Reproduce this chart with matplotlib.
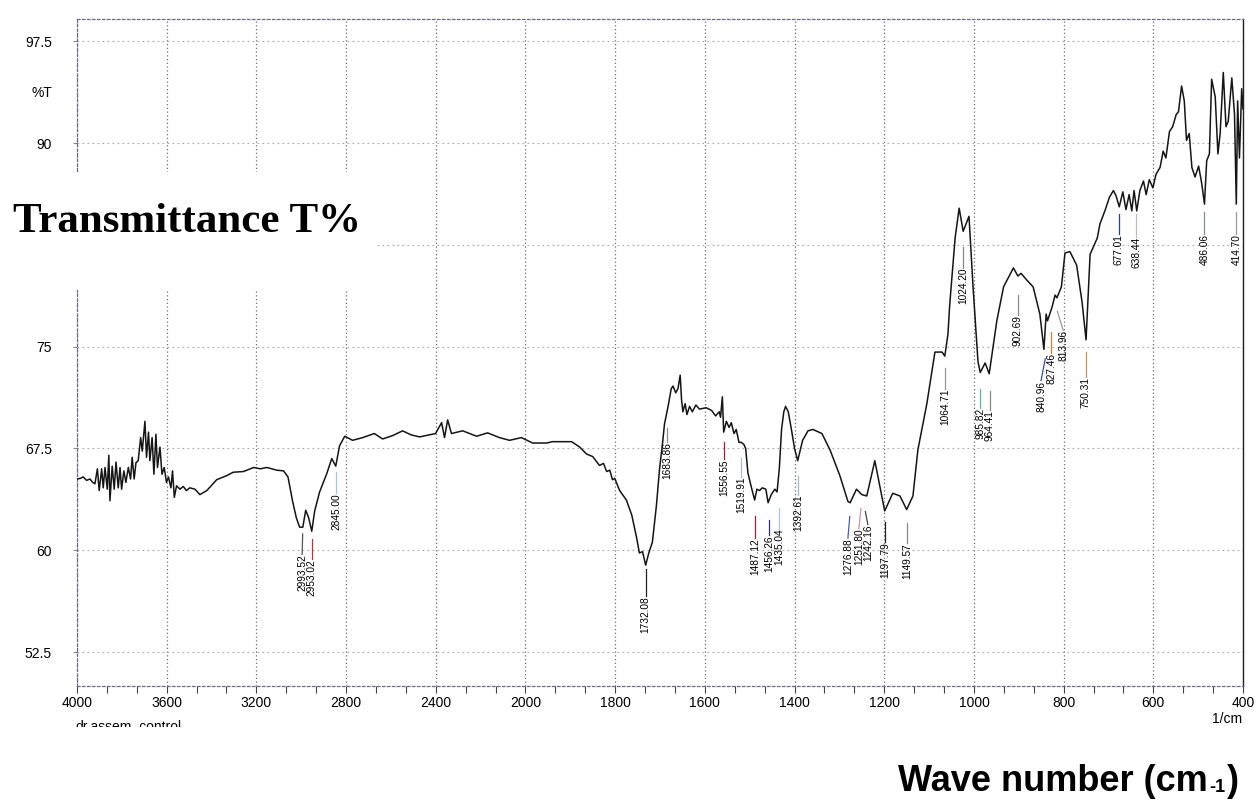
import numpy as np
import matplotlib
matplotlib.use("Agg")
import matplotlib.pyplot as plt
from matplotlib.patches import Rectangle
from matplotlib.ticker import FixedLocator

plt.rcParams["font.family"] = ["Liberation Sans", "DejaVu Sans"]

# spectrum (wavenumber in 1/cm, transmittance in %)
wavenumber = [
    4000, 3985, 3972, 3957, 3942, 3930, 3920, 3909, 3901, 3890, 3883, 3875, 3865, 3858, 3853,
    3843, 3834, 3826, 3816, 3808, 3801, 3791, 3782, 3771, 3761, 3754, 3745, 3737, 3727, 3716,
    3709, 3697, 3690, 3681, 3675, 3665, 3657, 3648, 3641, 3630, 3621, 3611, 3601, 3592, 3581,
    3574, 3566, 3556, 3541, 3526, 3512, 3497, 3474, 3452, 3421, 3377, 3332, 3303, 3258, 3212,
    3183, 3153, 3109, 3079, 3059, 3039, 3022, 3007, 2993, 2980, 2967, 2953, 2940, 2918, 2886,
    2864, 2846, 2829, 2806, 2771, 2726, 2674, 2637, 2592, 2548, 2510, 2472, 2401, 2374, 2361,
    2347, 2330, 2280, 2218, 2169, 2116, 2071, 2018, 1984, 1953, 1940, 1917, 1897, 1879, 1864,
    1850, 1835, 1826, 1819, 1812, 1806, 1801, 1790, 1775, 1763, 1752, 1746, 1739, 1732, 1725,
    1717, 1708, 1701, 1694, 1690, 1682, 1675, 1671, 1665, 1660, 1655, 1652, 1649, 1644, 1640,
    1634, 1628, 1620, 1612, 1597, 1585, 1576, 1568, 1565, 1561, 1558, 1552, 1546, 1541, 1535,
    1530, 1524, 1519, 1513, 1509, 1504, 1496, 1489, 1484, 1478, 1472, 1464, 1459, 1452, 1444,
    1439, 1434, 1429, 1424, 1420, 1414, 1407, 1400, 1393, 1382, 1370, 1359, 1339, 1321, 1299,
    1281, 1276, 1262, 1250, 1239, 1221, 1199, 1181, 1165, 1150, 1136, 1125, 1105, 1087, 1071,
    1065, 1058, 1054, 1042, 1033, 1024, 1011, 1002, 991, 986, 975, 966, 949, 934, 912,
    902, 895, 882, 868, 853, 844, 839, 836, 826, 819, 815, 805, 797, 786, 771,
    759, 750, 741, 725, 719, 708, 698, 689, 683, 676, 668, 661, 654, 648, 643,
    637, 630, 622, 616, 609, 601, 594, 585, 578, 572, 564, 557, 549, 544, 537,
    531, 526, 520, 514, 507, 499, 492, 486, 481, 475, 470, 462, 456, 451, 444,
    438, 433, 425, 419, 415, 412, 408, 403, 400,
]
transmittance = [
    65.25, 65.3, 65.4, 65.15, 65.25, 65.0, 64.9, 66.0, 64.4, 66.0, 64.6, 66.1, 64.5, 67.0, 63.65,
    66.2, 64.5, 66.5, 64.6, 66.1, 64.5, 65.85, 65.0, 66.1, 65.25, 66.85, 65.25, 66.45, 66.6, 68.3,
    67.3, 69.5, 66.85, 68.7, 66.6, 68.3, 65.6, 68.55, 66.1, 67.6, 65.6, 66.1, 65.0, 65.4, 64.6,
    65.85, 63.9, 64.75, 64.5, 64.7, 64.4, 64.6, 64.5, 64.1, 64.4, 65.2, 65.5, 65.75, 65.8, 66.1,
    66.0, 66.1, 65.9, 65.85, 65.4, 63.65, 62.4, 61.7, 61.7, 62.95, 62.4, 61.4, 62.9, 64.3, 65.65,
    66.75, 66.2, 67.7, 68.4, 68.1, 68.3, 68.6, 68.2, 68.45, 68.8, 68.5, 68.35, 68.6, 69.4, 68.3,
    69.6, 68.6, 68.8, 68.4, 68.65, 68.3, 68.1, 68.3, 67.9, 67.9, 68.0, 68.0, 68.0, 67.6, 67.1,
    66.9, 66.25, 66.4, 65.8, 65.9, 65.2, 65.3, 64.4, 63.7, 62.6, 60.9, 59.8, 59.9, 58.9, 59.8,
    60.6, 63.3, 66.0, 68.0, 69.3, 70.6, 71.9, 72.1, 71.6, 71.9, 72.9, 71.1, 70.2, 70.8, 70.0,
    70.6, 70.2, 70.7, 70.4, 70.5, 70.3, 69.9, 70.2, 69.8, 71.3, 68.7, 69.5, 69.05, 69.4, 68.6,
    68.9, 67.95, 67.95, 67.8, 67.5, 65.7, 64.6, 63.7, 64.5, 64.4, 64.6, 64.5, 63.5, 64.1, 64.5,
    64.3, 66.0, 68.9, 70.2, 70.6, 70.2, 68.9, 67.5, 66.6, 68.1, 68.8, 68.9, 68.6, 67.4, 65.5,
    63.6, 63.5, 64.5, 64.1, 64.0, 66.6, 62.9, 64.2, 64.0, 63.0, 64.0, 67.4, 70.8, 74.6, 74.6,
    74.3, 75.9, 78.1, 83.0, 85.2, 83.5, 84.6, 79.4, 73.9, 73.1, 73.8, 73.0, 76.9, 79.4, 80.8,
    80.2, 80.4, 79.9, 79.4, 77.4, 74.8, 77.4, 76.9, 77.9, 78.8, 78.6, 79.4, 81.9, 82.0, 81.0,
    78.3, 75.5, 81.8, 83.0, 84.05, 85.0, 86.0, 86.5, 86.1, 85.3, 86.4, 85.1, 86.2, 85.0, 86.5,
    85.0, 86.5, 87.2, 86.2, 87.3, 86.7, 87.7, 88.2, 89.4, 88.9, 90.85, 91.2, 92.1, 92.3, 94.2,
    93.1, 90.2, 90.7, 88.2, 87.5, 88.3, 87.0, 85.5, 88.7, 89.2, 94.7, 93.4, 89.2, 90.7, 95.2,
    91.2, 91.6, 94.8, 92.1, 85.5, 93.1, 88.9, 94.0, 92.5,
]

# peak picks printed on the chart
peak_wn = [2993.52, 2953.02, 2845.00, 1732.08, 1683.86, 1556.55, 1519.91, 1487.12, 1456.26,
           1435.04, 1392.61, 1276.88, 1251.80, 1242.16, 1197.79, 1149.57, 1064.71, 1024.20,
           985.82, 964.41, 902.69, 840.96, 827.46, 813.96, 750.31, 677.01, 638.44, 486.06, 414.70]
peak_text = ["2993.52", "2953.02", "2845.00", "1732.08", "1683.86", "1556.55", "1519.91",
             "1487.12", "1456.26", "1435.04", "1392.61", "1276.88", "1251.80", "1242.16",
             "1197.79", "1149.57", "1064.71", "1024.20", "985.82", "964.41", "902.69", "840.96",
             "827.46", "813.96", "750.31", "677.01", "638.44", "486.06", "414.70"]
line_top = [61.2, 60.85, 65.8, 58.65, 69.0, 67.95, 66.8, 62.5, 62.2, 63.1, 65.5, 62.5, 63.1,
            62.85, 62.1, 62.0, 73.4, 82.35, 71.9, 71.7, 78.8, 74.1, 76.1, 77.6, 74.6, 84.75,
            84.75, 84.9, 84.9]
text_top = [59.7, 59.35, 64.2, 56.6, 67.95, 66.7, 65.4, 60.9, 61.1, 61.6, 64.1, 60.9, 61.6,
            61.9, 60.6, 60.5, 71.9, 80.8, 70.5, 70.3, 77.3, 72.5, 74.5, 76.2, 72.8, 83.3,
            83.05, 83.3, 83.3]
# where the printer put each label (slightly off the pick when crowded)
text_wn = [2996.0, 2953.02, 2845.00, 1732.08, 1683.86, 1556.55, 1519.91, 1487.12, 1456.26,
           1435.04, 1392.61, 1281.0, 1256.7, 1236.6, 1197.79, 1149.57, 1064.71, 1024.20,
           985.82, 964.41, 902.69, 850.4, 827.46, 801.0, 750.31, 677.01, 638.44, 486.06, 414.70]
line_colors = ["#555555", "#c03030", "#9cc8e0", "#222222", "#888888", "#a02030", "#a8b8d0",
               "#a02030", "#303080", "#a8c8e0", "#a0b8c8", "#4060b0", "#d090b0", "#444444",
               "#222222", "#888888", "#999999", "#888888", "#60b0c0", "#888888", "#888888",
               "#3050b0", "#d08030", "#999999", "#d09060", "#2040a0", "#bbbbbb", "#8090a0",
               "#999999"]

major_ticks = [4000, 3600, 3200, 2800, 2400, 2000, 1800, 1600, 1400, 1200, 1000, 800, 600, 400]
y_ticks = [97.5, 90, 82.5, 75, 67.5, 60, 52.5]


# instrument axis: 4000-2000 at half the scale of 2000-400
def fwd(x):
    x = np.asarray(x, dtype=float)
    return np.where(x >= 2000, x, 2 * x - 2000)


def inv(u):
    u = np.asarray(u, dtype=float)
    return np.where(u >= 2000, u, (u + 2000) / 2)


fig = plt.figure(figsize=(12.58, 8.02), dpi=100)
ax = fig.add_axes([0.0612, 0.1446, 0.9269, 0.8311])
ax.set_xscale("function", functions=(fwd, inv))
ax.set_xlim(4000, 400)
ax.set_ylim(50, 99.1)

minor = []
for a, b in zip(major_ticks[:-1], major_ticks[1:]):
    minor += [a - (a - b) / 3, a - 2 * (a - b) / 3]
ax.xaxis.set_major_locator(FixedLocator(major_ticks))
ax.xaxis.set_minor_locator(FixedLocator(minor))
ax.set_xticklabels([str(t) for t in major_ticks])
ax.yaxis.set_major_locator(FixedLocator(y_ticks))
ax.set_yticklabels(["97.5", "90", "82.5", "75", "67.5", "60", "52.5"])

ax.tick_params(axis="x", which="both", direction="out", length=5, width=0.8,
               color="#444444", labelsize=10, pad=2.5)
ax.tick_params(axis="y", direction="out", length=3, width=0.8, color="#888888",
               labelsize=10, pad=15)
ax.xaxis.grid(True, which="major", color="#6a6a7a", linestyle=(0, (1, 2)), linewidth=0.9)
ax.yaxis.grid(True, which="major", color="#a8a8b0", linestyle=(0, (1.5, 3)), linewidth=0.8)

for side in ["top", "bottom", "left"]:
    ax.spines[side].set_linestyle((0, (2, 2)))
    ax.spines[side].set_color("#6a6a8a")
    ax.spines[side].set_linewidth(0.9)
ax.spines["right"].set_color("#222222")
ax.spines["right"].set_linewidth(1.0)

ax.plot(wavenumber, transmittance, color="#151515", linewidth=1.1, zorder=3)

for wn, tx, lab, y0, y1, c in zip(peak_wn, text_wn, peak_text, line_top, text_top, line_colors):
    ax.plot([wn, tx], [y0, y1], color=c, linewidth=0.9, zorder=3)
    ax.text(tx, y1, lab, rotation=90, ha="center", va="top", fontsize=7.3, zorder=4)

fig.text(42 / 1258, 1 - 93 / 802, "%T", ha="center", va="center", fontsize=10)
fig.text(1227 / 1258, 1 - 719 / 802, "1/cm", ha="center", va="center", fontsize=10)
fig.text(75 / 1258, 1 - 719 / 802, "dr.assem_control", ha="left", va="top", fontsize=10)
fig.patches.append(Rectangle((0.05, 1 - 745 / 802), 0.13, 18 / 802, transform=fig.transFigure,
                             facecolor="white", edgecolor="none", zorder=5))

# white-out under the pasted y title
fig.patches.append(Rectangle((0, 1 - 290 / 802), 0.298, 118 / 802, transform=fig.transFigure,
                             facecolor="white", edgecolor="none", zorder=5))
fig.text(13 / 1258, 1 - 232 / 802, "Transmittance T%", ha="left", va="baseline",
         fontsize=31, fontweight="bold", family="Liberation Serif", zorder=6)

t1 = fig.text(898 / 1258, 1 - 791 / 802, "Wave number (cm", ha="left", va="baseline",
              fontsize=26, fontweight="bold", zorder=6)
t2 = ax.annotate("-1", xy=(1, 0), xycoords=t1, xytext=(1, 2.3), textcoords="offset points",
                 ha="left", va="bottom", fontsize=13, fontweight="bold", annotation_clip=False)
ax.annotate(")", xy=(1, 0), xycoords=(t2, t1), xytext=(1, 0), textcoords="offset points",
            ha="left", va="bottom", fontsize=26, fontweight="bold", annotation_clip=False)

fig.savefig("out.png", dpi=100)
